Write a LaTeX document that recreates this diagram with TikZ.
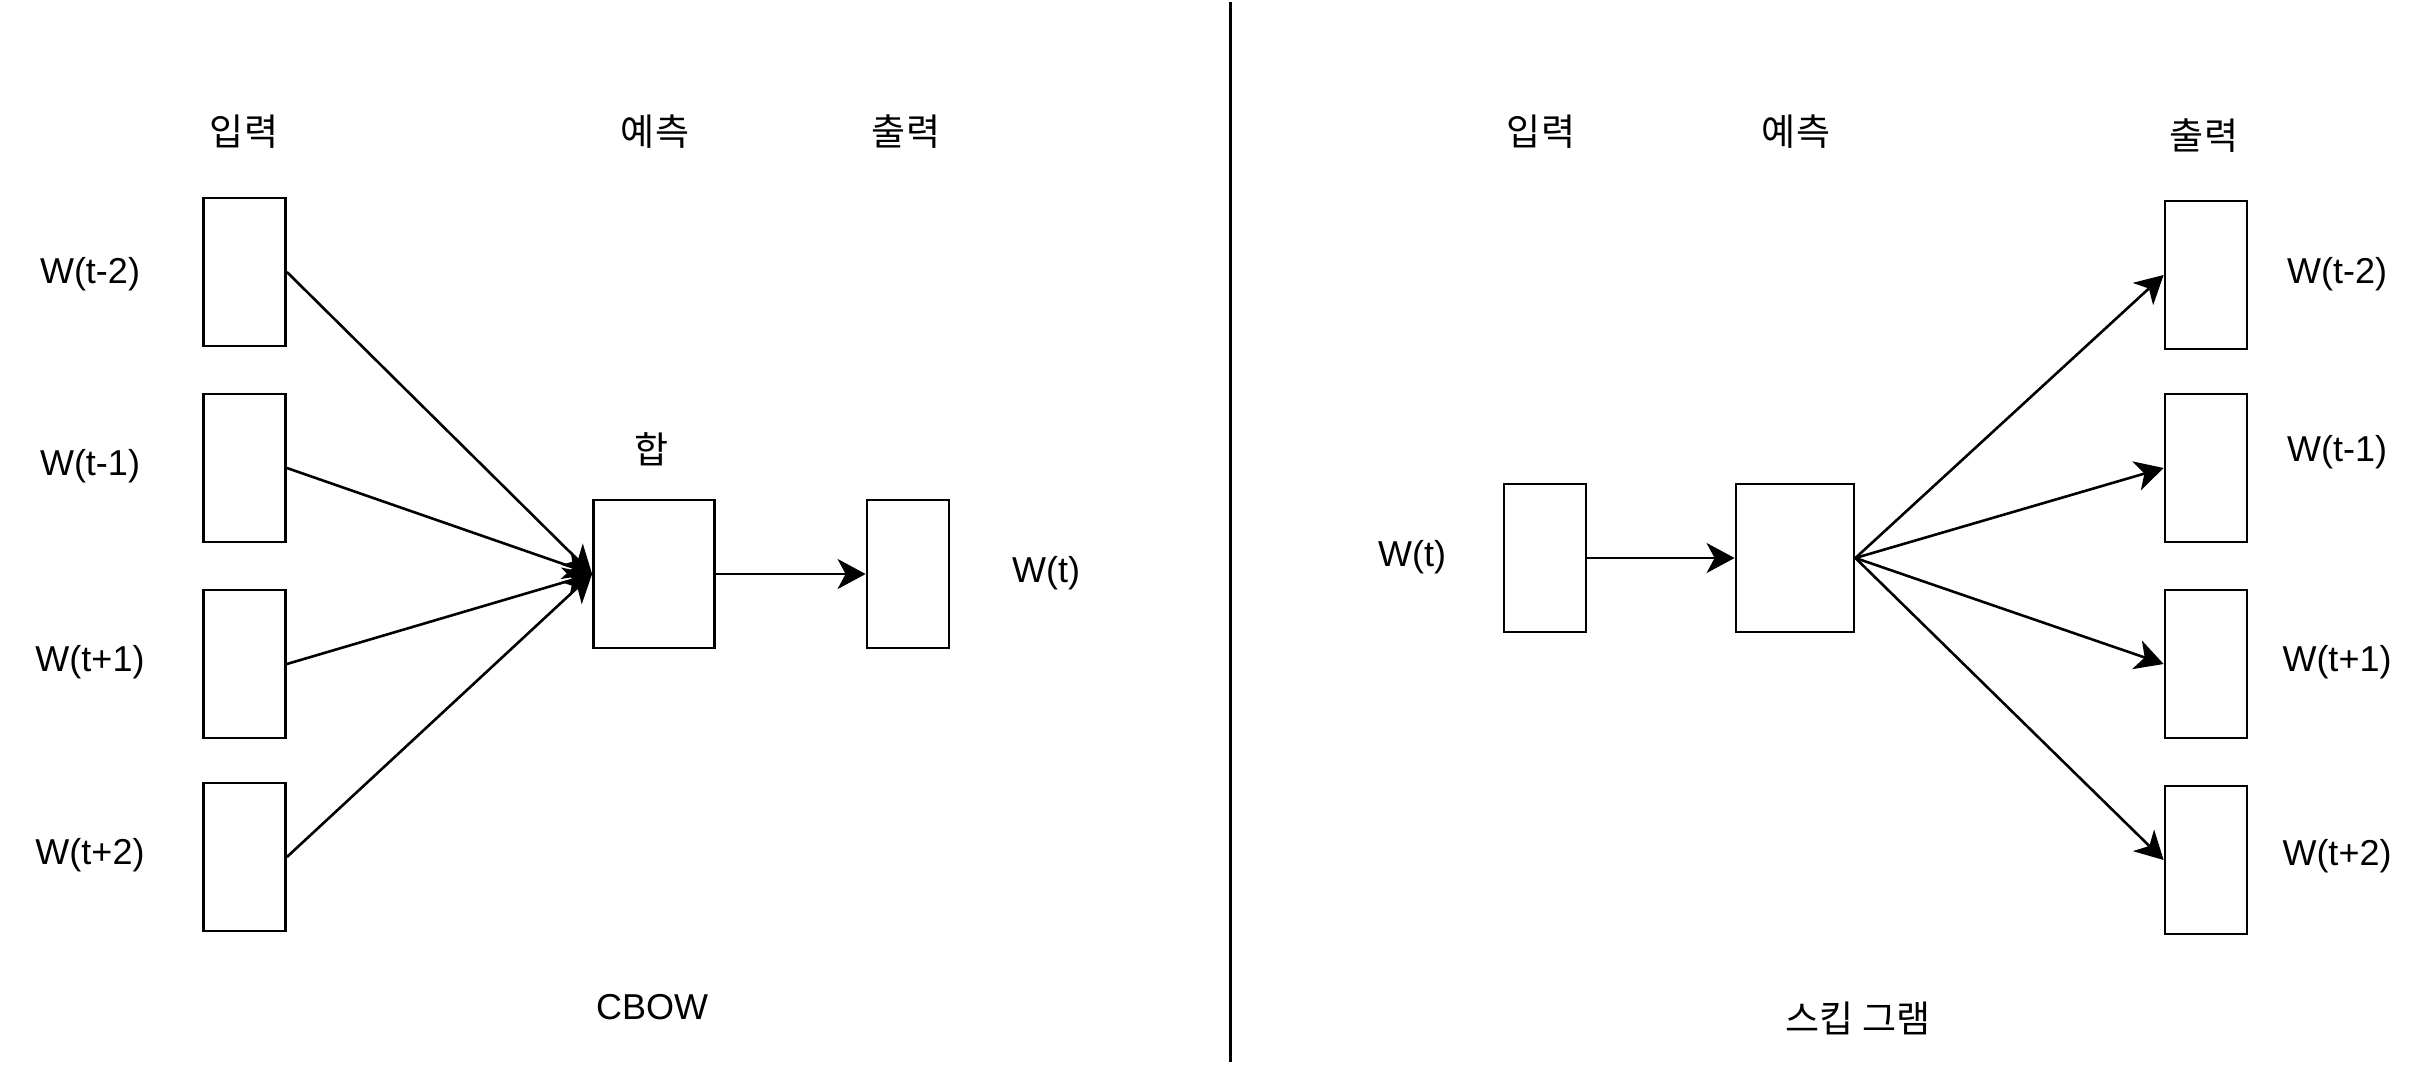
\documentclass[tikz,border=0pt]{standalone}
\usepackage{fontspec}
\setmainfont{Liberation Sans}
\newfontfamily\kofont{Noto Sans CJK KR}
\usetikzlibrary{arrows.meta}
\tikzset{
  vec/.style={draw, line width=2.8pt, inner sep=0pt, minimum width=82pt, minimum height=148pt},
  lbl/.style={inner sep=0pt, font=\fontsize{36}{40}\selectfont},
  kl/.style={inner sep=0pt, font=\kofont\fontsize{37}{42}\selectfont},
  arr/.style={line width=2.6pt, -{Stealth[length=28pt,width=30pt,inset=8pt]}}
}
\begin{document}
\begin{tikzpicture}[x=1pt,y=-1pt]
\useasboundingbox (0,0) rectangle (2415,1068);
% divider
\coordinate (dtop) at (1230,2);
\coordinate (dbot) at (1230,1062);
\draw[line width=3pt] (dtop) -- (dbot);

% ---------- CBOW ----------
\node[kl] (h1) at (244,132) {입력};
\node[kl] (h2) at (655,132) {예측};
\node[kl] (h3) at (906,132) {출력};
\node[kl] (hap) at (652,449) {합};

\node[vec] (in1) at (244.5,272) {};
\node[vec] (in2) at (244.5,468) {};
\node[vec] (in3) at (244.5,664) {};
\node[vec] (in4) at (244.5,857) {};
\node[vec, minimum width=121pt] (sum) at (654,574) {};
\node[vec] (out) at (908,574) {};

\node[lbl] (l1) at (90,274) {W(t-2)};
\node[lbl] (l2) at (90,466) {W(t-1)};
\node[lbl] (l3) at (90,662) {W(t+1)};
\node[lbl] (l4) at (90,855) {W(t+2)};
\node[lbl] (lwt) at (1046,573) {W(t)};
\node[lbl] (cbow) at (652,1007) {CBOW};

\draw[arr] (in1.east) -- (sum.west);
\draw[arr] (in2.east) -- (sum.west);
\draw[arr] (in3.east) -- (sum.west);
\draw[arr] (in4.east) -- (sum.west);
\draw[arr] (sum.east) -- (out.west);

% ---------- Skip-gram ----------
\node[kl] (g1) at (1541,132) {입력};
\node[kl] (g2) at (1796,132) {예측};
\node[kl] (g3) at (2204,136) {출력};

\node[vec] (rin) at (1545,558) {};
\node[vec, minimum width=118pt] (rpred) at (1795,558) {};
\node[vec] (o1) at (2206,275) {};
\node[vec] (o2) at (2206,468) {};
\node[vec] (o3) at (2206,664) {};
\node[vec] (o4) at (2206,860) {};

\node[lbl] (rwt) at (1412,557) {W(t)};
\node[lbl] (r1) at (2337,274) {W(t-2)};
\node[lbl] (r2) at (2337,452) {W(t-1)};
\node[lbl] (r3) at (2337,662) {W(t+1)};
\node[lbl] (r4) at (2337,856) {W(t+2)};
\node[kl] (skip) at (1858,1018) {스킵 그램};

\draw[arr] (rin.east) -- (rpred.west);
\draw[arr] (rpred.east) -- (o1.west);
\draw[arr] (rpred.east) -- (o2.west);
\draw[arr] (rpred.east) -- (o3.west);
\draw[arr] (rpred.east) -- (o4.west);
\end{tikzpicture}
\end{document}
